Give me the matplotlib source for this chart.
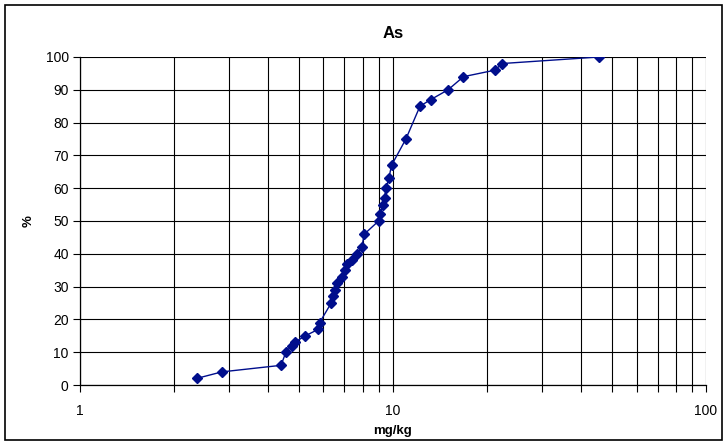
#!/usr/bin/env python3
"""
Cumulative distribution of As concentrations (log scale)
"""
import matplotlib
matplotlib.use("Agg")
import matplotlib.pyplot as plt
from matplotlib.patches import Rectangle
from matplotlib.ticker import FixedLocator, NullFormatter

# mg/kg values and cumulative percentages
conc = [2.36, 2.84, 4.39, 4.55, 4.75, 4.85, 5.25, 5.78, 5.83, 6.35, 6.45,
        6.55, 6.65, 6.85, 7.05, 7.15, 7.4, 7.7, 7.95, 8.1, 9.0, 9.1,
        9.3, 9.4, 9.5, 9.7, 9.9, 11.0, 12.2, 13.2, 15.0, 16.8, 21.2,
        22.3, 45.5]
percent = [2, 4, 6, 10, 12, 13, 15, 17, 19, 25, 27,
           29, 31, 33, 35, 37, 38, 40, 42, 46, 50, 52,
           55, 57, 60, 63, 67, 75, 85, 87, 90, 94, 96,
           98, 100]

xticks = [1, 10, 100]
minor_x = [2, 3, 4, 5, 6, 7, 8, 9, 20, 30, 40, 50, 60, 70, 80, 90]
yticks = list(range(0, 101, 10))

plt.rcParams['font.family'] = ['Liberation Sans', 'DejaVu Sans']

fig = plt.figure(figsize=(7.26, 4.48), dpi=100)
ax = fig.add_axes([0.110, 0.1406, 0.8625, 0.7322])

ax.plot(conc, percent, color='#000E8C', linewidth=1.0, marker='D',
        markersize=5.5, markerfacecolor='#000E8C', markeredgecolor='#000E8C')

ax.set_xscale('log')
ax.set_xlim(1, 100)
ax.set_ylim(0, 100)
ax.set_xticks(xticks)
ax.set_xticklabels(['1', '10', '100'])
ax.xaxis.set_minor_locator(FixedLocator(minor_x))
ax.xaxis.set_minor_formatter(NullFormatter())
ax.set_yticks(yticks)

# Grid settings
ax.grid(which='major', axis='both', color='black', linewidth=0.8)
ax.grid(which='minor', axis='x', color='black', linewidth=0.8)
ax.set_axisbelow(True)
for side in ['top', 'right']:
    ax.spines[side].set_visible(False)
for side in ['left', 'bottom']:
    ax.spines[side].set_linewidth(0.9)

ax.tick_params(axis='both', which='major', direction='out', length=5,
               width=0.8, labelsize=10, pad=3)
ax.tick_params(axis='x', which='minor', direction='out', length=5, width=0.8)
ax.tick_params(axis='x', which='major', pad=9)

ax.set_title('As', fontsize=12, fontweight='bold', pad=14)
ax.set_xlabel('mg/kg', fontsize=9.5, fontweight='bold')
ax.xaxis.set_label_coords(0.5, -0.122)
ax.set_ylabel('%', fontsize=9.5, fontweight='bold')
ax.yaxis.set_label_coords(-0.072, 0.5)

# Outer frame around the whole chart
fig.patches.append(Rectangle((0.007, 0.017), 0.988, 0.972, transform=fig.transFigure,
                             fill=False, edgecolor='black', linewidth=1.2))

plt.savefig('out.png', dpi=100)
plt.close()
